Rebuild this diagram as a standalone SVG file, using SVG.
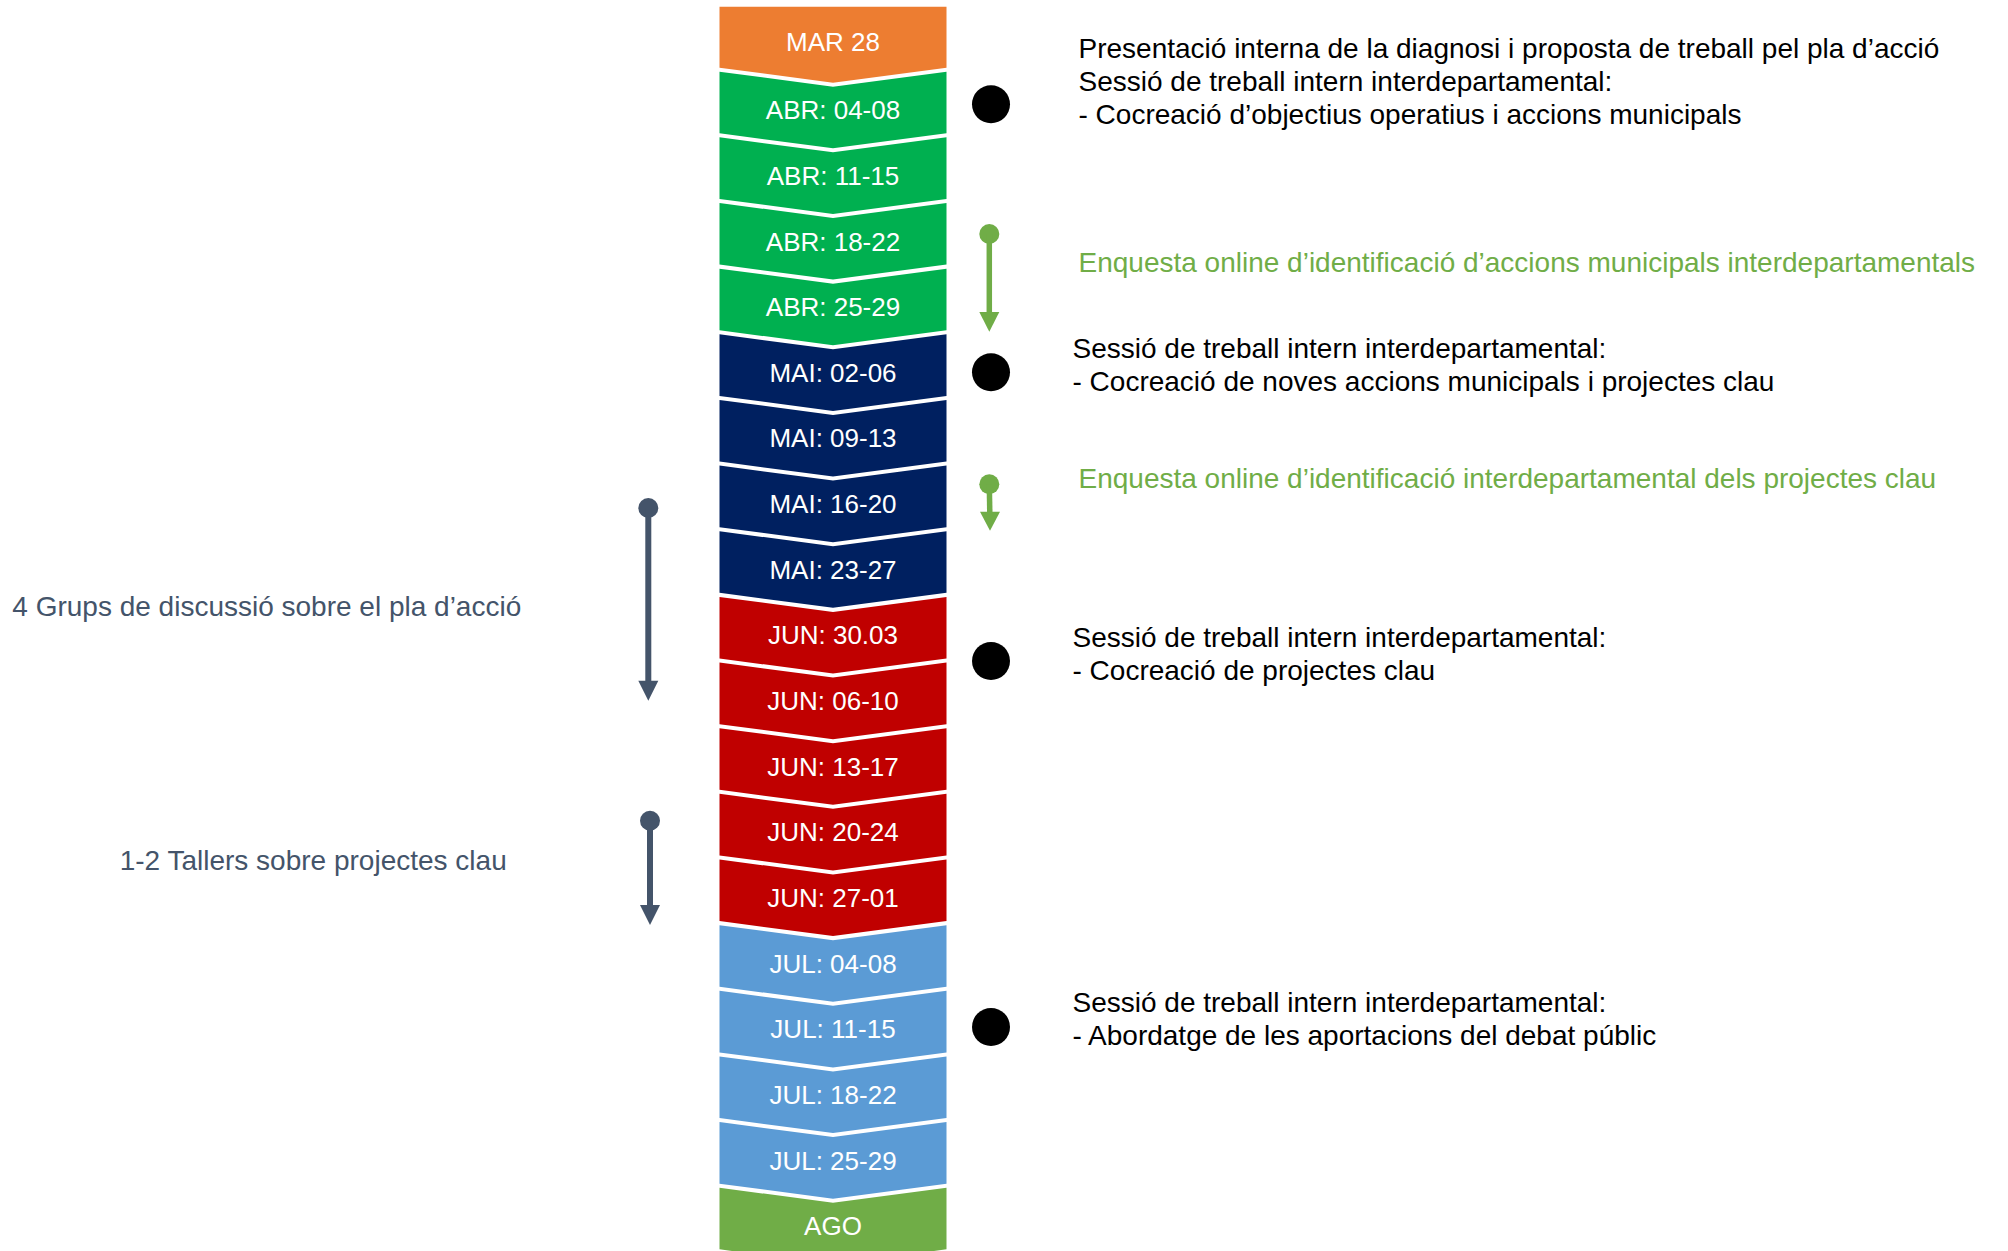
<svg xmlns="http://www.w3.org/2000/svg" width="2008" height="1251" viewBox="0 0 2008 1251">
<defs>
<style>
.lbl{font-family:"Liberation Sans",Arial,sans-serif;font-size:26px;fill:#ffffff;text-anchor:middle}
.txt{font-family:"Liberation Sans",Arial,sans-serif;font-size:28px;fill:#000000}
.gtxt{font-family:"Liberation Sans",Arial,sans-serif;font-size:28px;fill:#70AD47}
.ltxt{font-family:"Liberation Sans",Arial,sans-serif;font-size:28px;fill:#44546A}
.or{fill:#ED7D31}.gr{fill:#00B050}.nv{fill:#002060}.rd{fill:#C00000}.lb{fill:#5B9BD5}.ag{fill:#70AD47}
.dot{fill:#000000}
.gl{stroke:#70AD47;stroke-width:5.5;fill:none}
.gf{fill:#70AD47}
.sl{stroke:#44546A;stroke-width:6;fill:none}
.sf{fill:#44546A}
</style>
<path id="chev" d="M0,0 L113.5,15 L227,0 L227,61.6 L113.5,76.6 L0,61.6 Z"/>
</defs>
<rect width="2008" height="1251" fill="#ffffff"/>

<g id="timeline">
<g id="n00"><path class="or" d="M719.5,6.7 L946.5,6.7 L946.5,67.7 L833,82.7 L719.5,67.7 Z"/><text class="lbl" x="833" y="50.7">MAR 28</text></g>
<g id="n01"><use href="#chev" class="gr" x="719.5" y="71.7"/><text class="lbl" x="833" y="119.2">ABR: 04-08</text></g>
<g id="n02"><use href="#chev" class="gr" x="719.5" y="137.35"/><text class="lbl" x="833" y="184.85">ABR: 11-15</text></g>
<g id="n03"><use href="#chev" class="gr" x="719.5" y="203"/><text class="lbl" x="833" y="250.5">ABR: 18-22</text></g>
<g id="n04"><use href="#chev" class="gr" x="719.5" y="268.65"/><text class="lbl" x="833" y="316.15">ABR: 25-29</text></g>
<g id="n05"><use href="#chev" class="nv" x="719.5" y="334.3"/><text class="lbl" x="833" y="381.8">MAI: 02-06</text></g>
<g id="n06"><use href="#chev" class="nv" x="719.5" y="399.95"/><text class="lbl" x="833" y="447.45">MAI: 09-13</text></g>
<g id="n07"><use href="#chev" class="nv" x="719.5" y="465.6"/><text class="lbl" x="833" y="513.1">MAI: 16-20</text></g>
<g id="n08"><use href="#chev" class="nv" x="719.5" y="531.25"/><text class="lbl" x="833" y="578.75">MAI: 23-27</text></g>
<g id="n09"><use href="#chev" class="rd" x="719.5" y="596.9"/><text class="lbl" x="833" y="644.4">JUN: 30.03</text></g>
<g id="n10"><use href="#chev" class="rd" x="719.5" y="662.55"/><text class="lbl" x="833" y="710.05">JUN: 06-10</text></g>
<g id="n11"><use href="#chev" class="rd" x="719.5" y="728.2"/><text class="lbl" x="833" y="775.7">JUN: 13-17</text></g>
<g id="n12"><use href="#chev" class="rd" x="719.5" y="793.85"/><text class="lbl" x="833" y="841.35">JUN: 20-24</text></g>
<g id="n13"><use href="#chev" class="rd" x="719.5" y="859.5"/><text class="lbl" x="833" y="907">JUN: 27-01</text></g>
<g id="n14"><use href="#chev" class="lb" x="719.5" y="925.15"/><text class="lbl" x="833" y="972.65">JUL: 04-08</text></g>
<g id="n15"><use href="#chev" class="lb" x="719.5" y="990.8"/><text class="lbl" x="833" y="1038.3">JUL: 11-15</text></g>
<g id="n16"><use href="#chev" class="lb" x="719.5" y="1056.45"/><text class="lbl" x="833" y="1103.95">JUL: 18-22</text></g>
<g id="n17"><use href="#chev" class="lb" x="719.5" y="1122.1"/><text class="lbl" x="833" y="1169.6">JUL: 25-29</text></g>
<g id="n18"><use href="#chev" class="ag" x="719.5" y="1187.75"/><text class="lbl" x="833" y="1235.2">AGO</text></g>
</g>

<g id="events">
<g id="e1"><circle class="dot" cx="991" cy="104.3" r="19"/>
<text class="txt" x="1078.5" y="57.5">Presentació interna de la diagnosi i proposta de treball pel pla d’acció</text>
<text class="txt" x="1078.5" y="90.8">Sessió de treball intern interdepartamental:</text>
<text class="txt" x="1078.5" y="124.1">- Cocreació d’objectius operatius i accions municipals</text></g>
<g id="e2"><text class="gtxt" x="1078.5" y="271.9">Enquesta online d’identificació d’accions municipals interdepartamentals</text></g>
<g id="e3"><circle class="dot" cx="991" cy="372.3" r="19"/>
<text class="txt" x="1072.5" y="357.9">Sessió de treball intern interdepartamental:</text>
<text class="txt" x="1072.5" y="391.2">- Cocreació de noves accions municipals i projectes clau</text></g>
<g id="e4"><text class="gtxt" x="1078.5" y="488">Enquesta online d’identificació interdepartamental dels projectes clau</text></g>
<g id="e5"><circle class="dot" cx="991" cy="661" r="19"/>
<text class="txt" x="1072.5" y="646.9">Sessió de treball intern interdepartamental:</text>
<text class="txt" x="1072.5" y="680.2">- Cocreació de projectes clau</text></g>
<g id="e6"><circle class="dot" cx="991" cy="1027" r="19"/>
<text class="txt" x="1072.5" y="1012">Sessió de treball intern interdepartamental:</text>
<text class="txt" x="1072.5" y="1045.3">- Abordatge de les aportacions del debat públic</text></g>
<g id="l1"><text class="ltxt" x="12.3" y="616">4 Grups de discussió sobre el pla d’acció</text></g>
<g id="l2"><text class="ltxt" x="119.7" y="870">1-2 Tallers sobre projectes clau</text></g>
</g>

<g id="connectors">
<circle class="gf" cx="989.3" cy="234" r="10"/>
<line class="gl" x1="989.3" y1="234" x2="989.3" y2="313"/>
<polygon class="gf" points="979.3,312 999.3,312 989.3,331.7"/>
<circle class="gf" cx="989.3" cy="484.3" r="10"/>
<line class="gl" x1="989.3" y1="484.3" x2="989.8" y2="513"/>
<polygon class="gf" points="980,511.7 1000,511.7 990,530.7"/>
<circle class="sf" cx="648.3" cy="508" r="10"/>
<line class="sl" x1="648.3" y1="508" x2="648.3" y2="682"/>
<polygon class="sf" points="638.3,680.7 658.3,680.7 648.3,700.7"/>
<circle class="sf" cx="650" cy="820.7" r="10"/>
<line class="sl" x1="650" y1="820.7" x2="650" y2="906"/>
<polygon class="sf" points="640,905 660,905 650,925"/>
</g>
</svg>
